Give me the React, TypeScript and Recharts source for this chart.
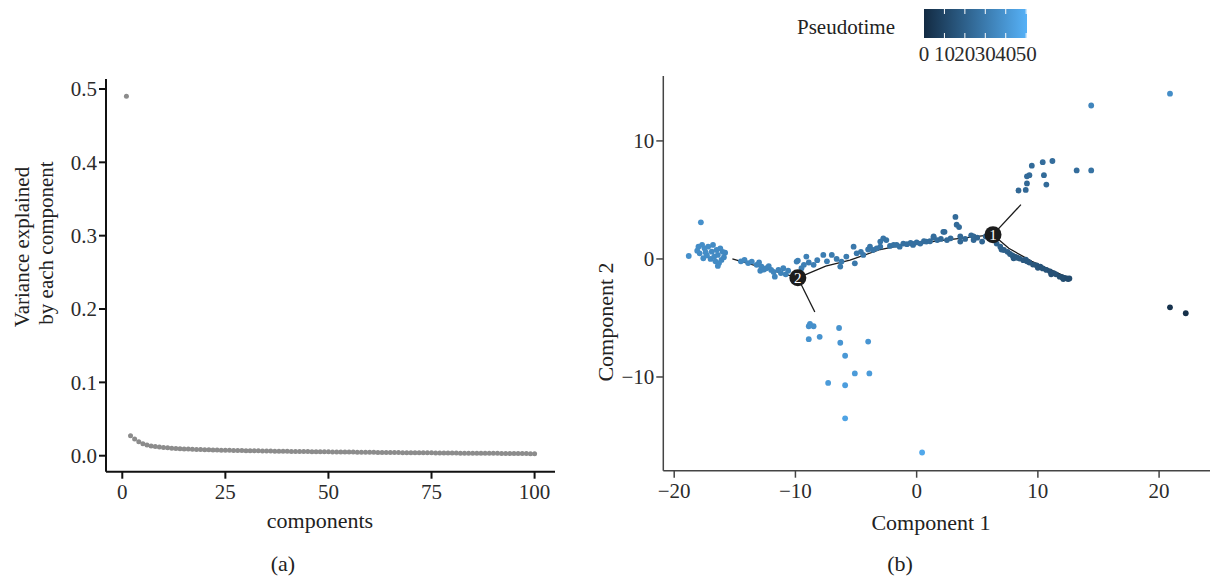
import React from 'react';
import { ScatterChart, Scatter, XAxis, YAxis } from 'recharts';

// ---------------------------------------------------------------------------
// Data
// ---------------------------------------------------------------------------

// (a) variance explained by each of the first 100 components
const VARIANCE = [
  0.49, 0.0272, 0.0228, 0.0192, 0.0164, 0.0146, 0.0134, 0.0125, 0.0118, 0.0112,
  0.0107, 0.0103, 0.0099, 0.0096, 0.0093, 0.009, 0.0088, 0.0086, 0.0084, 0.0082,
  0.008, 0.0079, 0.0077, 0.0076, 0.0075, 0.0073, 0.0072, 0.0071, 0.007, 0.0069,
  0.0068, 0.0067, 0.0066, 0.0065, 0.0064, 0.0063, 0.0062, 0.0062, 0.0061, 0.006,
  0.0059, 0.0058, 0.0058, 0.0057, 0.0056, 0.0055, 0.0055, 0.0054, 0.0053, 0.0053,
  0.0052, 0.0051, 0.0051, 0.005, 0.0049, 0.0049, 0.0048, 0.0048, 0.0047, 0.0046,
  0.0046, 0.0045, 0.0045, 0.0044, 0.0044, 0.0043, 0.0043, 0.0042, 0.0042, 0.0041,
  0.0041, 0.004, 0.004, 0.0039, 0.0039, 0.0038, 0.0038, 0.0037, 0.0037, 0.0036,
  0.0036, 0.0035, 0.0035, 0.0035, 0.0034, 0.0034, 0.0033, 0.0033, 0.0032, 0.0032,
  0.0032, 0.0031, 0.0031, 0.003, 0.003, 0.003, 0.0029, 0.0029, 0.0028, 0.0028,
];
const COMPONENT_TICKS = [0, 25, 50, 75, 100];
const VARIANCE_TICKS = [0, 0.1, 0.2, 0.3, 0.4, 0.5];

// (b) cells: [component 1, component 2, pseudotime]
const CELLS: [number, number, number][] = [
  // left cluster
  [-18.8, 0.25, 38], [-18.0, 1.04, 37], [-17.9, 0.48, 37], [-17.6, 0.06, 37],
  [-17.2, 1.04, 37], [-16.9, 0.62, 36], [-16.8, 1.19, 36], [-16.4, 0.34, 36],
  [-16.4, -0.59, 36], [-15.8, 0.53, 35], [-16.1, -0.08, 35], [-16.5, 0.76, 36],
  [-17.8, 3.1, 38], [-18.1, 0.7, 37], [-17.5, 0.9, 37], [-17.3, 0.3, 37],
  [-17.0, 0.0, 36], [-16.7, 0.2, 36], [-16.2, 0.9, 36], [-15.9, 0.15, 35],
  [-17.7, 1.2, 37], [-16.6, -0.2, 36], [-16.0, 0.6, 35], [-17.4, 0.55, 37],
  [-16.3, -0.35, 36],
  // towards branch 2
  [-14.5, -0.2, 35], [-14.2, -0.08, 35], [-13.9, -0.35, 35], [-13.6, -0.22, 35],
  [-13.2, -0.5, 34], [-13.0, -0.3, 34], [-12.9, -1.0, 34], [-12.8, -0.65, 34],
  [-12.6, -0.9, 34], [-12.4, -0.79, 34], [-12.2, -0.6, 34], [-12.0, -0.93, 34],
  [-11.8, -1.1, 34], [-11.7, -1.5, 34], [-11.4, -0.93, 33], [-11.2, -1.2, 33],
  [-11.0, -0.79, 33], [-10.8, -1.3, 33], [-10.6, -0.99, 33],
  // backbone between branch 2 and branch 1
  [-9.9, -0.22, 32], [-9.8, -0.14, 32], [-9.5, -0.79, 32], [-9.1, 0.2, 32],
  [-9.3, -0.5, 32], [-8.9, -0.3, 31], [-8.5, -0.5, 31], [-8.2, -0.1, 31],
  [-7.7, 0.34, 31], [-7.4, -0.2, 31], [-7.0, 0.34, 30], [-6.6, 0.0, 30],
  [-6.3, -0.65, 30], [-6.2, -0.22, 30], [-5.8, 0.2, 30], [-5.2, 1.04, 29],
  [-5.1, -0.37, 29], [-4.95, 0.48, 29], [-4.6, 0.6, 29], [-4.4, 0.34, 29],
  [-4.0, 0.8, 29], [-3.85, 1.04, 28], [-3.6, 0.76, 28], [-3.3, 0.9, 28],
  [-3.0, 1.47, 28], [-3.0, 1.04, 28], [-2.75, 1.75, 28], [-2.5, 1.6, 27],
  [-2.2, 1.1, 27], [-1.9, 1.2, 27], [-1.65, 1.19, 27], [-1.4, 1.04, 27],
  [-1.1, 1.3, 26], [-0.8, 1.25, 26], [-0.5, 1.35, 26], [-0.3, 1.27, 26],
  [-0.3, 1.19, 26], [0.0, 1.4, 26], [0.3, 1.3, 26], [0.6, 1.5, 25],
  [0.8, 1.47, 25], [1.1, 1.5, 25], [1.4, 1.84, 25], [1.4, 1.9, 25],
  [1.7, 1.6, 25], [2.0, 1.7, 24], [2.2, 2.3, 24], [2.3, 2.3, 24],
  [2.5, 1.6, 24], [2.8, 1.75, 24], [3.2, 3.56, 24], [3.3, 2.9, 24],
  [3.5, 2.7, 24], [3.6, 1.47, 23], [3.6, 1.9, 23], [4.0, 1.7, 23],
  [4.5, 2.0, 23], [4.7, 1.9, 23], [4.7, 1.6, 23], [5.0, 1.8, 22],
  [5.4, 1.47, 22], [5.7, 1.9, 22],
  // upper branch
  [8.4, 5.8, 23], [9.0, 5.85, 23], [9.1, 6.4, 23], [10.7, 6.3, 24],
  [9.1, 7.0, 24], [9.3, 7.1, 24], [10.5, 7.1, 24], [9.5, 7.9, 24],
  [10.4, 8.2, 25], [11.2, 8.3, 25], [13.2, 7.5, 25], [14.4, 7.5, 27],
  [14.4, 13.0, 34], [20.9, 14.0, 37],
  // isolated early cells
  [20.9, -4.1, 3], [22.2, -4.6, 2],
  // lower right branch
  [6.6, 1.3, 21], [6.9, 1.04, 21], [7.0, 0.8, 20], [7.2, 0.76, 20],
  [7.5, 0.6, 20], [7.7, 0.42, 19], [7.9, 0.3, 19], [8.0, 0.05, 18],
  [8.1, 0.2, 18], [8.3, 0.1, 18], [8.5, 0.03, 18], [8.8, -0.1, 17],
  [9.0, -0.05, 17], [9.1, -0.2, 17], [9.3, -0.3, 17], [9.6, -0.48, 16],
  [9.9, -0.55, 16], [10.0, -0.75, 16], [10.2, -0.65, 15], [10.4, -0.8, 15],
  [10.7, -0.93, 15], [11.0, -1.05, 14], [11.1, -1.3, 14], [11.3, -1.2, 14],
  [11.5, -1.3, 14], [11.8, -1.5, 13], [12.0, -1.55, 13], [12.1, -1.7, 13],
  [12.2, -1.6, 13], [12.4, -1.64, 12], [12.5, -1.7, 12], [12.6, -1.65, 12],
  // lower branch
  [-8.8, -5.5, 38], [-8.5, -5.7, 38], [-8.9, -5.7, 38], [-8.9, -6.8, 39],
  [-8.0, -6.6, 39], [-6.4, -5.85, 39], [-6.3, -7.1, 40], [-4.0, -7.0, 40],
  [-5.9, -8.2, 41], [-5.1, -9.7, 42], [-3.9, -9.7, 42], [-7.3, -10.5, 42],
  [-5.9, -10.7, 43], [-5.9, -13.5, 45], [0.45, -16.4, 47],
];

// minimum spanning tree edges
const EDGE_LEFT = [{ x: -15.2, y: 0.0 }, { x: -12.5, y: -0.8 }, { x: -9.8, y: -1.6 }];
const EDGE_DOWN = [{ x: -9.8, y: -1.6 }, { x: -8.4, y: -4.5 }];
const EDGE_MID = [
  { x: -9.8, y: -1.6 }, { x: -7.5, y: -0.6 }, { x: -5.5, y: -0.1 }, { x: -3, y: 0.8 },
  { x: -1.1, y: 1.2 }, { x: 1.5, y: 1.5 }, { x: 3.6, y: 1.75 }, { x: 6.3, y: 2.06 },
];
const EDGE_UP = [{ x: 6.3, y: 2.06 }, { x: 8.6, y: 4.6 }];
const EDGE_RIGHT = [{ x: 6.3, y: 2.06 }, { x: 7.6, y: 0.9 }, { x: 9.5, y: -0.2 }, { x: 12.3, y: -1.5 }];
const BRANCHES = [{ x: -9.8, y: -1.6, label: '2' }, { x: 6.3, y: 2.06, label: '1' }];

const C1_TICKS = [-20, -10, 0, 10, 20];
const C2_TICKS = [-10, 0, 10];
const PSEUDO_TICKS = [0, 10, 20, 30, 40, 50];
const PSEUDO_MAX = 50.4;

// ---------------------------------------------------------------------------
// Helpers
// ---------------------------------------------------------------------------

const FONT = '"Liberation Serif", "DejaVu Serif", serif';
const LOW = [19, 43, 67];
const HIGH = [86, 177, 247];

function pseudoColor(t: number) {
  const f = Math.min(1, Math.max(0, t / PSEUDO_MAX));
  const c = LOW.map((l, i) => Math.round(l + (HIGH[i] - l) * f));
  return `rgb(${c[0]},${c[1]},${c[2]})`;
}

const minus = (v: number) => (v < 0 ? `\u2212${Math.abs(v)}` : `${v}`);

const tickStyle = { fontFamily: FONT, fontSize: 21, fill: '#2b2b2b' };
const noDot = () => <g />;

// ---------------------------------------------------------------------------
// Panels
// ---------------------------------------------------------------------------

function VariancePanel() {
  const data = VARIANCE.map((v, i) => ({ x: i + 1, y: v }));
  return (
    <ScatterChart width={570} height={582} margin={{ top: 79, right: 15, bottom: 80.3, left: 56 }}>
      <XAxis
        type="number"
        dataKey="x"
        domain={[-3.95, 104.95]}
        ticks={COMPONENT_TICKS}
        allowDataOverflow
        height={30}
        tick={tickStyle}
        tickSize={7}
        tickMargin={5}
        axisLine={{ stroke: '#111', strokeWidth: 2 }}
        tickLine={{ stroke: '#111', strokeWidth: 2 }}
        label={{
          content: () => (
            <g fontFamily={FONT} fill="#222">
              <text x={320} y={520} fontSize={22} textAnchor="middle" dominantBaseline="central">components</text>
              <text x={283} y={563} fontSize={22} textAnchor="middle" dominantBaseline="central">(a)</text>
            </g>
          ),
        }}
      />
      <YAxis
        type="number"
        dataKey="y"
        domain={[-0.0218, 0.5136]}
        ticks={VARIANCE_TICKS}
        allowDataOverflow
        width={50}
        tick={tickStyle}
        tickFormatter={(v: number) => v.toFixed(1)}
        tickSize={7}
        tickMargin={2}
        axisLine={{ stroke: '#111', strokeWidth: 2 }}
        tickLine={{ stroke: '#111', strokeWidth: 2 }}
        label={{
          content: () => (
            <g fontFamily={FONT} fill="#222" fontSize={21}>
              <text x={22} y={247} textAnchor="middle" dominantBaseline="central" transform="rotate(-90 22 247)">
                Variance explained
              </text>
              <text x={46} y={243} textAnchor="middle" dominantBaseline="central" transform="rotate(-90 46 243)">
                by each component
              </text>
            </g>
          ),
        }}
      />
      <Scatter
        data={data}
        isAnimationActive={false}
        shape={(p: any) => <circle cx={p.cx} cy={p.cy} r={2.5} fill="#8c8c8c" />}
      />
    </ScatterChart>
  );
}

function TrajectoryPanel() {
  const cells = CELLS.map(([x, y, t]) => ({ x, y, t }));
  const edge = { stroke: '#1a1a1a', strokeWidth: 1.3 };
  return (
    <ScatterChart width={632} height={582} margin={{ top: 76, right: 2, bottom: 81.3, left: 33.3 }}>
      <XAxis
        type="number"
        dataKey="x"
        domain={[-20.9, 24.2]}
        ticks={C1_TICKS}
        allowDataOverflow
        height={30}
        tick={tickStyle}
        tickFormatter={minus}
        tickSize={7}
        tickMargin={5}
        axisLine={{ stroke: '#444', strokeWidth: 1.5 }}
        tickLine={{ stroke: '#444', strokeWidth: 1.5 }}
        label={{
          content: () => (
            <g fontFamily={FONT} fill="#222">
              <text x={351} y={522} fontSize={22} textAnchor="middle" dominantBaseline="central">Component 1</text>
              <text x={320} y={563} fontSize={22} textAnchor="middle" dominantBaseline="central">(b)</text>
            </g>
          ),
        }}
      />
      <YAxis
        type="number"
        dataKey="y"
        domain={[-17.94, 15.5]}
        ticks={C2_TICKS}
        allowDataOverflow
        width={50}
        tick={tickStyle}
        tickFormatter={minus}
        tickSize={7}
        tickMargin={2}
        axisLine={{ stroke: '#444', strokeWidth: 1.5 }}
        tickLine={{ stroke: '#444', strokeWidth: 1.5 }}
        label={{
          content: () => (
            <text
              x={25}
              y={322}
              fontFamily={FONT}
              fontSize={22}
              fill="#222"
              textAnchor="middle"
              dominantBaseline="central"
              transform="rotate(-90 25 322)"
            >
              Component 2
            </text>
          ),
        }}
      />
      {[EDGE_LEFT, EDGE_DOWN, EDGE_MID, EDGE_UP, EDGE_RIGHT].map((seg, i) => (
        <Scatter key={`edge-${i}`} data={seg} line={edge} shape={noDot} isAnimationActive={false} />
      ))}
      <Scatter
        data={cells}
        isAnimationActive={false}
        shape={(p: any) => <circle cx={p.cx} cy={p.cy} r={2.9} fill={pseudoColor(p.payload.t)} />}
      />
      <Scatter
        data={BRANCHES}
        isAnimationActive={false}
        shape={(p: any) => (
          <g>
            <circle cx={p.cx} cy={p.cy} r={8.5} fill="#1c1c1c" />
            <text
              x={p.cx}
              y={p.cy}
              fill="#fff"
              fontFamily={FONT}
              fontSize={15}
              textAnchor="middle"
              dominantBaseline="central"
            >
              {p.payload.label}
            </text>
          </g>
        )}
      />
    </ScatterChart>
  );
}

function PseudotimeLegend() {
  const barX = 924;
  const barW = 103;
  const px = (v: number) => barX + (v / PSEUDO_MAX) * barW;
  return (
    <svg width={1212} height={70} style={{ position: 'absolute', left: 0, top: 0 }}>
      <defs>
        <linearGradient id="pseudo" x1="0" x2="1" y1="0" y2="0">
          <stop offset="0%" stopColor={pseudoColor(0)} />
          <stop offset="100%" stopColor={pseudoColor(PSEUDO_MAX)} />
        </linearGradient>
      </defs>
      <text x={797} y={27} fontFamily={FONT} fontSize={21} fill="#222" dominantBaseline="central">
        Pseudotime
      </text>
      <rect x={barX} y={9} width={barW} height={29} fill="url(#pseudo)" />
      {PSEUDO_TICKS.slice(1).map((t) => (
        <g key={t} stroke="#fff" strokeWidth={1}>
          <line x1={px(t)} x2={px(t)} y1={9} y2={14} />
          <line x1={px(t)} x2={px(t)} y1={33} y2={38} />
        </g>
      ))}
      {PSEUDO_TICKS.map((t) => (
        <text
          key={t}
          x={px(t)}
          y={54}
          fontFamily={FONT}
          fontSize={21}
          fill="#2b2b2b"
          textAnchor="middle"
          dominantBaseline="central"
        >
          {t}
        </text>
      ))}
    </svg>
  );
}

export default function App() {
  return (
    <div style={{ position: 'absolute', left: 0, top: 0, width: 1212, height: 582, background: '#fff' }}>
      <div style={{ position: 'absolute', left: 0, top: 0 }}>
        <VariancePanel />
      </div>
      <div style={{ position: 'absolute', left: 580, top: 0 }}>
        <TrajectoryPanel />
      </div>
      <PseudotimeLegend />
    </div>
  );
}
